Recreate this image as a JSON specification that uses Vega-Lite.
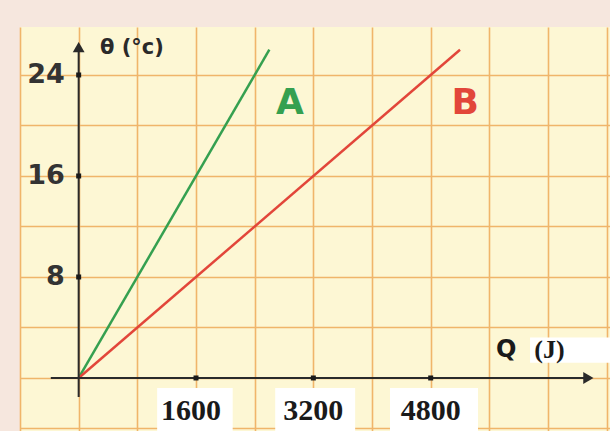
{
  "$schema": "https://vega.github.io/schema/vega-lite/v6.json",
  "width": 610,
  "height": 431,
  "autosize": {"type": "fit", "contains": "padding"},
  "padding": {"left": 20, "top": 27, "right": 0, "bottom": 0},
  "background": "#f6e7de",
  "config": {
    "view": {"fill": "#fdf7d4", "stroke": null},
    "axis": {"labels": false, "ticks": false, "domain": false, "title": null, "grid": true, "gridColor": "#f0b56a", "gridWidth": 1.6, "gridOpacity": 1}
  },
  "datasets": {
    "lines": [
      {"series": "A", "Q": 0, "theta": 0},
      {"series": "A", "Q": 2600, "theta": 26},
      {"series": "B", "Q": 0, "theta": 0},
      {"series": "B", "Q": 5200, "theta": 26}
    ],
    "axes": [
      {"x1": -380, "x2": 6900, "y1": 0, "y2": 0},
      {"x1": 0, "x2": 0, "y1": -1.5, "y2": 26.0}
    ],
    "arrows": [
      {"Q": 0, "theta": 26.2, "shape": "triangle-up"},
      {"Q": 6950, "theta": 0, "shape": "triangle-right"}
    ],
    "ticks": [
      {"Q": 1600, "theta": 0}, {"Q": 3200, "theta": 0}, {"Q": 4800, "theta": 0},
      {"Q": 0, "theta": 8}, {"Q": 0, "theta": 16}, {"Q": 0, "theta": 24}
    ],
    "boxes": [
      {"x1": 1070, "x2": 2100, "y1": -0.8, "y2": -4.2},
      {"x1": 2680, "x2": 3770, "y1": -0.8, "y2": -4.2},
      {"x1": 4245, "x2": 5445, "y1": -0.8, "y2": -4.2},
      {"x1": 6155, "x2": 7245, "y1": 3.2, "y2": 1.2}
    ],
    "ylabels": [
      {"Q": -190, "theta": 24, "label": "24"},
      {"Q": -190, "theta": 16, "label": "16"},
      {"Q": -190, "theta": 8, "label": "8"}
    ],
    "xlabels": [
      {"Q": 1530, "theta": -2.6, "label": "1600"},
      {"Q": 3200, "theta": -2.6, "label": "3200"},
      {"Q": 4800, "theta": -2.6, "label": "4800"}
    ],
    "names": [
      {"Q": 2880, "theta": 21.8, "label": "A", "series": "A"},
      {"Q": 5270, "theta": 21.8, "label": "B", "series": "B"}
    ]
  },
  "encoding": {
    "x": {"type": "quantitative", "scale": {"domain": [-800, 7245], "nice": false, "zero": false}},
    "y": {"type": "quantitative", "scale": {"domain": [-4.2, 27.8], "nice": false, "zero": false}}
  },
  "layer": [
    {
      "data": {"name": "lines"},
      "mark": {"type": "line", "strokeWidth": 2.5},
      "encoding": {
        "x": {"field": "Q", "type": "quantitative", "axis": {"values": [-800, 0, 800, 1600, 2400, 3200, 4000, 4800, 5600, 6400, 7200]}},
        "y": {"field": "theta", "type": "quantitative", "axis": {"values": [-4, 0, 4, 8, 12, 16, 20, 24, 28]}},
        "color": {"field": "series", "type": "nominal", "scale": {"domain": ["A", "B"], "range": ["#35a050", "#e2463a"]}, "legend": null}
      }
    },
    {
      "data": {"name": "boxes"},
      "mark": {"type": "rect", "color": "#ffffff"},
      "encoding": {
        "x": {"field": "x1", "type": "quantitative"},
        "x2": {"field": "x2"},
        "y": {"field": "y1", "type": "quantitative"},
        "y2": {"field": "y2"}
      }
    },
    {
      "data": {"name": "axes"},
      "mark": {"type": "rule", "color": "#2a2a2a", "strokeWidth": 2},
      "encoding": {
        "x": {"field": "x1", "type": "quantitative"},
        "x2": {"field": "x2"},
        "y": {"field": "y1", "type": "quantitative"},
        "y2": {"field": "y2"}
      }
    },
    {
      "data": {"name": "arrows"},
      "mark": {"type": "point", "filled": true, "color": "#2a2a2a", "size": 140, "opacity": 1},
      "encoding": {
        "x": {"field": "Q", "type": "quantitative"},
        "y": {"field": "theta", "type": "quantitative"},
        "shape": {"field": "shape", "type": "nominal", "scale": null}
      }
    },
    {
      "data": {"name": "ticks"},
      "mark": {"type": "square", "filled": true, "color": "#1a1a1a", "size": 25, "opacity": 1},
      "encoding": {
        "x": {"field": "Q", "type": "quantitative"},
        "y": {"field": "theta", "type": "quantitative"}
      }
    },
    {
      "data": {"name": "ylabels"},
      "mark": {"type": "text", "align": "right", "baseline": "middle", "font": "DejaVu Sans", "fontWeight": "bold", "fontSize": 27, "color": "#333333"},
      "encoding": {
        "x": {"field": "Q", "type": "quantitative"},
        "y": {"field": "theta", "type": "quantitative"},
        "text": {"field": "label"}
      }
    },
    {
      "data": {"name": "xlabels"},
      "mark": {"type": "text", "align": "center", "baseline": "middle", "font": "Liberation Serif", "fontWeight": "bold", "fontSize": 30, "color": "#1a1a1a"},
      "encoding": {
        "x": {"field": "Q", "type": "quantitative"},
        "y": {"field": "theta", "type": "quantitative"},
        "text": {"field": "label"}
      }
    },
    {
      "data": {"name": "names"},
      "mark": {"type": "text", "align": "center", "baseline": "middle", "font": "DejaVu Sans", "fontWeight": "bold", "fontSize": 36},
      "encoding": {
        "x": {"field": "Q", "type": "quantitative"},
        "y": {"field": "theta", "type": "quantitative"},
        "text": {"field": "label"},
        "color": {"field": "series", "type": "nominal", "scale": {"domain": ["A", "B"], "range": ["#35a050", "#e2463a"]}, "legend": null}
      }
    },
    {
      "data": {"values": [{"Q": 290, "theta": 26.1, "label": "θ (°c)"}]},
      "mark": {"type": "text", "align": "left", "baseline": "middle", "font": "DejaVu Sans", "fontWeight": "bold", "fontSize": 21, "color": "#2a2a2a"},
      "encoding": {
        "x": {"field": "Q", "type": "quantitative"},
        "y": {"field": "theta", "type": "quantitative"},
        "text": {"field": "label"}
      }
    },
    {
      "data": {"values": [{"Q": 5830, "theta": 2.2, "label": "Q"}]},
      "mark": {"type": "text", "align": "center", "baseline": "middle", "font": "DejaVu Sans", "fontWeight": "bold", "fontSize": 24, "color": "#1a1a1a"},
      "encoding": {
        "x": {"field": "Q", "type": "quantitative"},
        "y": {"field": "theta", "type": "quantitative"},
        "text": {"field": "label"}
      }
    },
    {
      "data": {"values": [{"Q": 6420, "theta": 2.2, "label": "(J)"}]},
      "mark": {"type": "text", "align": "center", "baseline": "middle", "font": "Liberation Serif", "fontWeight": "bold", "fontSize": 26, "color": "#1a1a1a"},
      "encoding": {
        "x": {"field": "Q", "type": "quantitative"},
        "y": {"field": "theta", "type": "quantitative"},
        "text": {"field": "label"}
      }
    }
  ]
}
